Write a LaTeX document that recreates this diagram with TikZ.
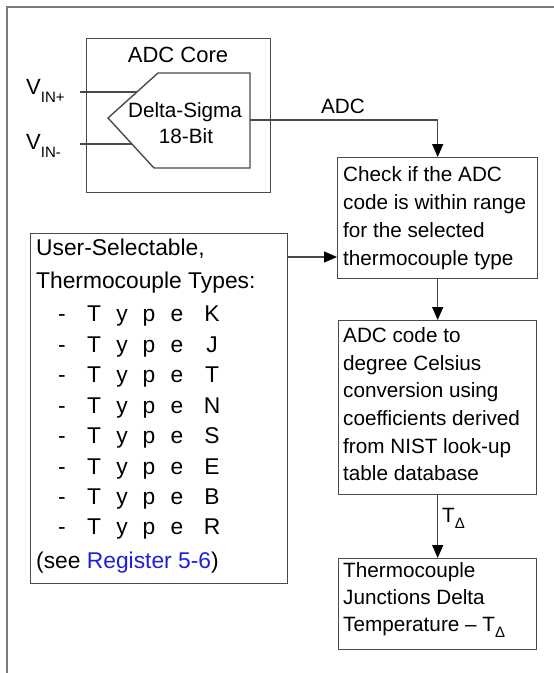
\documentclass[tikz,border=0pt]{standalone}
\usepackage{fontspec}
\setmainfont{Liberation Sans}
\usetikzlibrary{arrows.meta}
\definecolor{lc}{HTML}{4A4A4A}
\definecolor{fc}{HTML}{7A7A7A}
\definecolor{lnk}{HTML}{1E1EDC}
\newcommand\fa{\fontsize{20.7}{25}\selectfont}
\newcommand\fb{\fontsize{22.8}{27}\selectfont}
\newcommand\fs{\fontsize{15}{15}\selectfont}
\newcommand\typerow[3]{%
  \node[tb] (#1d) at (62,#2) {-};
  \node[tb] (#1t) at (94,#2) {T};
  \node[tb] (#1y) at (122,#2) {y};
  \node[tb] (#1p) at (149,#2) {p};
  \node[tb] (#1e) at (177,#2) {e};
  \node[tb] (#1l) at (212,#2) {#3};}
\begin{document}
\begin{tikzpicture}[x=1pt,y=-1pt,
  ln/.style={draw=lc, line width=1.4pt},
  arr/.style={ln, -{Triangle[length=13pt,width=11pt,color=black]}},
  rbox/.style={draw=lc, line width=1.4pt, inner sep=0pt, anchor=north west},
  ta/.style={font=\fa, inner sep=0pt, anchor=base west},
  tb/.style={font=\fb, inner sep=0pt, anchor=base}]
\useasboundingbox (0,0) rectangle (554,673);
% outer frame
\draw[draw=fc, line width=2pt] (7,680) -- (7,7) -- (560,7);
% ADC core
\node[rbox, minimum width=184pt, minimum height=154pt] (core) at (86,38) {};
\node[font=\fontsize{22}{26}\selectfont, inner sep=0pt, anchor=base] (tcore) at (178,62) {ADC Core};
\draw[ln] (158,73) -- (250,73) -- (250,168) -- (154,168) -- (108,118) -- cycle;
\coordinate (dsout) at (250,120);
\coordinate (vp) at (137,92);
\coordinate (vm) at (132,144);
\coordinate (vpin) at (80,92);
\coordinate (vmin) at (80,144);
\node[font=\fa, inner sep=0pt, anchor=base] (ds1) at (185,117) {Delta-Sigma};
\node[font=\fa, inner sep=0pt, anchor=base] (ds2) at (186,143) {18-Bit};
\node[font=\fontsize{22}{26}\selectfont, inner sep=0pt, anchor=base west] (vinp) at (26,94) {V\raisebox{-8pt}{\fs IN+}};
\node[font=\fontsize{22}{26}\selectfont, inner sep=0pt, anchor=base west] (vinm) at (26,149) {V\raisebox{-8pt}{\fs IN-}};
\draw[ln] (vpin) -- (vp);
\draw[ln] (vmin) -- (vm);
% Check box
\node[rbox, minimum width=200pt, minimum height=121pt] (check) at (337,157) {};
\node[ta] (c1) at (343,181) {Check if the ADC};
\node[ta] (c2) at (343,209) {code is within range};
\node[ta] (c3) at (343,237) {for the selected};
\node[ta] (c4) at (343,265) {thermocouple type};
\node[font=\fa, inner sep=0pt, anchor=base] (adcl) at (343,113) {ADC};
\draw[arr] (dsout) -| (check.north);
% Conversion box
\node[rbox, minimum width=198pt, minimum height=174pt] (conv) at (338,320) {};
\node[ta] (v1) at (343,342) {ADC code to};
\node[ta] (v2) at (343,370) {degree Celsius};
\node[ta] (v3) at (343,397) {conversion using};
\node[ta] (v4) at (343,425) {coefficients derived};
\node[ta] (v5) at (343,453) {from NIST look-up};
\node[ta] (v6) at (343,480) {table database};
\draw[arr] (check.south) -- (conv.north);
% Result box
\node[rbox, minimum width=198pt, minimum height=91pt] (res) at (338,558) {};
\node[ta] (r1) at (343,577) {Thermocouple};
\node[ta] (r2) at (343,604) {Junctions Delta};
\node[ta] (r3) at (343,631) {Temperature -- T\raisebox{-6pt}{\fs Δ}};
\draw[arr] (conv.south) -- (res.north);
\node[ta] (tdl) at (442,522) {T\raisebox{-6pt}{\fs Δ}};
% User box
\node[rbox, minimum width=257pt, minimum height=350pt] (user) at (30,233) {};
\node[font=\fb, inner sep=0pt, anchor=base west] (u1) at (36,255) {User-Selectable,};
\node[font=\fb, inner sep=0pt, anchor=base west] (u2) at (36,288) {Thermocouple Types:};
\typerow{k}{321}{K}
\typerow{j}{352}{J}
\typerow{t}{382}{T}
\typerow{n}{413}{N}
\typerow{s}{443}{S}
\typerow{e}{474}{E}
\typerow{b}{504}{B}
\typerow{r}{534}{R}
\node[font=\fb, inner sep=0pt, anchor=base west] (u3) at (36,568) {(see \textcolor{lnk}{Register 5-6})};
\draw[arr] (user.east |- 0,257) -- (check.west |- 0,257);
\end{tikzpicture}
\end{document}
